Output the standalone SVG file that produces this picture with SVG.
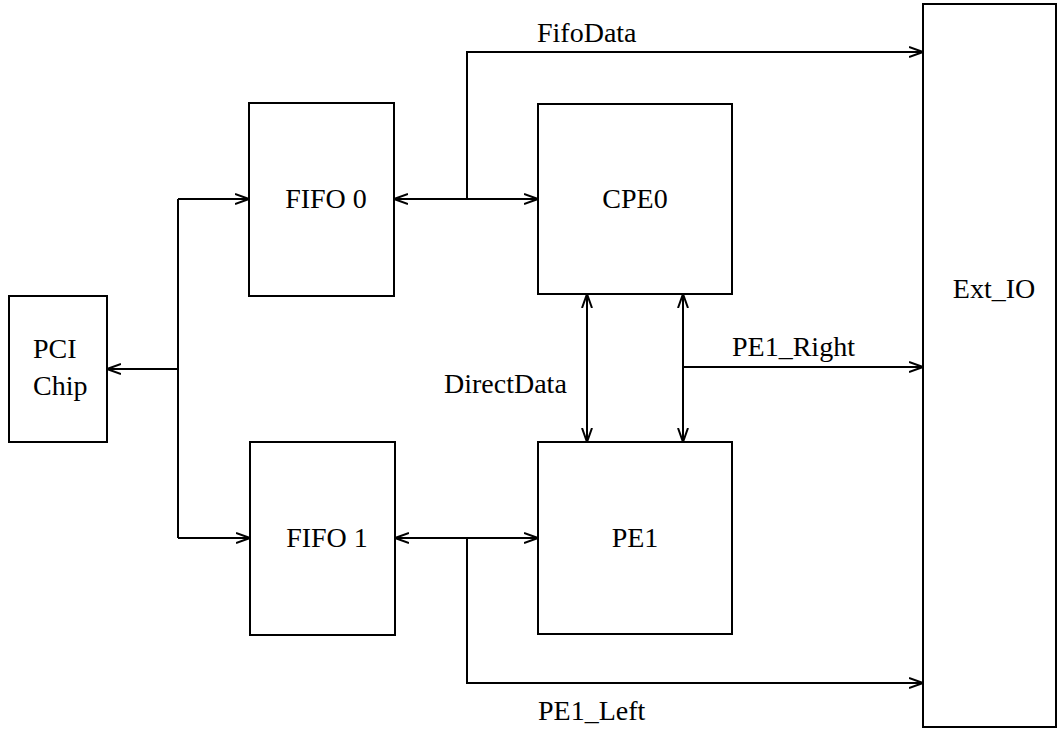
<svg xmlns="http://www.w3.org/2000/svg" width="1060" height="729" viewBox="0 0 1060 729">
<style>
.box{fill:#fff;stroke:#000;stroke-width:2}
.ln{fill:none;stroke:#000;stroke-width:2}
text{font-family:"Liberation Serif","Times New Roman",serif;font-size:28px;fill:#000}
.c{text-anchor:middle}
</style>
<defs>
<marker id="ah" viewBox="0 0 15 12" refX="14" refY="6" markerWidth="15" markerHeight="12" markerUnits="userSpaceOnUse" orient="auto-start-reverse">
<path d="M0,1 L14,6 L0,11" fill="none" stroke="#000" stroke-width="2"/>
</marker>
</defs>
<rect width="1060" height="729" fill="#fff"/>
<g id="pci"><rect class="box" x="9" y="296" width="98" height="146"/><text x="33" y="358">PCI</text><text x="33" y="395">Chip</text></g>
<g id="fifo0"><rect class="box" x="249" y="103" width="145" height="193"/><text class="c" x="326" y="208">FIFO 0</text></g>
<g id="fifo1"><rect class="box" x="250" y="442" width="145" height="193"/><text class="c" x="327" y="547">FIFO 1</text></g>
<g id="cpe0"><rect class="box" x="538" y="104" width="194" height="190"/><text class="c" x="635" y="208">CPE0</text></g>
<g id="pe1"><rect class="box" x="538" y="442" width="194" height="192"/><text class="c" x="635" y="547">PE1</text></g>
<g id="extio"><rect class="box" x="923" y="4" width="133" height="723"/><text class="c" x="994" y="298">Ext_IO</text></g>
<g id="connectors">
<line class="ln" x1="178" y1="199" x2="178" y2="538"/>
<line class="ln" x1="178" y1="199" x2="249" y2="199" marker-end="url(#ah)"/>
<line class="ln" x1="178" y1="538" x2="250" y2="538" marker-end="url(#ah)"/>
<line class="ln" x1="178" y1="369" x2="107" y2="369" marker-end="url(#ah)"/>
<line class="ln" x1="394" y1="199" x2="538" y2="199" marker-start="url(#ah)" marker-end="url(#ah)"/>
<line class="ln" x1="395" y1="538" x2="538" y2="538" marker-start="url(#ah)" marker-end="url(#ah)"/>
<polyline class="ln" points="467,199 467,52 923,52" marker-end="url(#ah)"/>
<polyline class="ln" points="467,538 467,683 923,683" marker-end="url(#ah)"/>
<line class="ln" x1="587" y1="294" x2="587" y2="442" marker-start="url(#ah)" marker-end="url(#ah)"/>
<line class="ln" x1="683" y1="294" x2="683" y2="442" marker-start="url(#ah)" marker-end="url(#ah)"/>
<line class="ln" x1="683" y1="367" x2="923" y2="367" marker-end="url(#ah)"/>
<text x="537" y="42">FifoData</text>
<text x="538" y="720">PE1_Left</text>
<text x="732" y="356">PE1_Right</text>
<text x="444" y="393">DirectData</text>
</g>
</svg>
